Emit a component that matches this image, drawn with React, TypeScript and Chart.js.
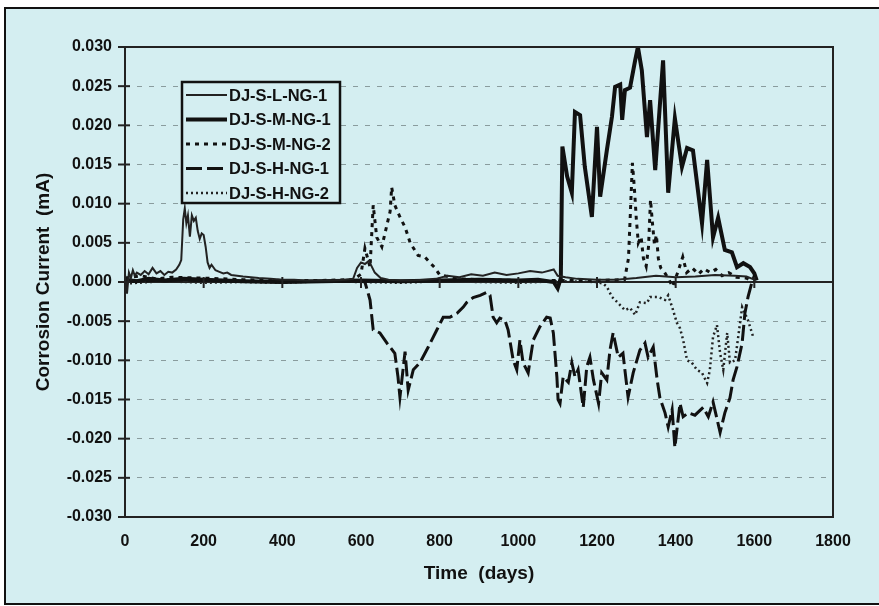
import React, { useEffect, useRef } from "react";
import { Chart, registerables } from "chart.js";

Chart.register(...registerables);

// ---------- data ----------
const seriesNames = ["DJ-S-L-NG-1", "DJ-S-M-NG-1", "DJ-S-M-NG-2", "DJ-S-H-NG-1", "DJ-S-H-NG-2"];

const xTickValues = [0, 200, 400, 600, 800, 1000, 1200, 1400, 1600, 1800];
const yTickValues = [-0.03, -0.025, -0.02, -0.015, -0.01, -0.005, 0, 0.005, 0.01, 0.015, 0.02, 0.025, 0.03];
const yTickLabels = ["-0.030", "-0.025", "-0.020", "-0.015", "-0.010", "-0.005", "0.000", "0.005", "0.010", "0.015", "0.020", "0.025", "0.030"];

const lNg1Days = [0, 5, 10, 15, 20, 25, 30, 40, 50, 60, 70, 80, 90, 100, 110, 120, 130, 138, 143, 148, 152, 156, 160, 165, 170, 175, 180, 185, 190, 195, 200, 205, 210, 215, 220, 230, 240, 250, 260, 270, 285, 300, 320, 340, 370, 400, 430, 460, 500, 530, 560, 580, 590, 600, 610, 620, 635, 650, 670, 700, 730, 760, 790, 820, 850, 880, 910, 940, 970, 1000, 1030, 1060, 1090, 1100, 1120, 1150, 1200, 1250, 1300, 1350, 1400, 1450, 1500, 1550, 1580, 1600];
const lNg1Vals = [0.001, -0.0015, 0.0012, 0.0005, 0.0015, 0.0008, 0.0012, 0.0009, 0.0014, 0.001, 0.0018, 0.0011, 0.0014, 0.0009, 0.0013, 0.0012, 0.0016, 0.0022, 0.0028, 0.008, 0.0094, 0.0075, 0.0085, 0.0058, 0.0085, 0.0078, 0.0082, 0.0065, 0.0055, 0.0062, 0.006, 0.0045, 0.0025, 0.0018, 0.0022, 0.0015, 0.0013, 0.0011, 0.0012, 0.0009, 0.0008, 0.0007, 0.0006, 0.0005, 0.0004, 0.0003, 0.0003, 0.0002, 0.0002, 0.0002, 0.0003, 0.0004, 0.0018, 0.0025, 0.0023, 0.0027, 0.0012, 0.0005, 0.0003, 0.0002, 0.0002, 0.0003, 0.0004, 0.0008, 0.0006, 0.001, 0.0008, 0.0012, 0.0009, 0.0011, 0.0014, 0.0012, 0.0016, 0.0008, 0.0006, 0.0004, 0.0003, 0.0003, 0.0005, 0.0008, 0.0006, 0.0007, 0.0009, 0.0008, 0.0007, 0.0003];

const mNg1Days = [0, 30, 60, 100, 150, 200, 250, 300, 400, 500, 600, 700, 800, 900, 1000, 1050, 1090, 1100, 1108, 1112, 1124, 1136, 1144, 1157, 1169, 1187, 1200, 1208, 1225, 1238, 1246, 1259, 1264, 1271, 1284, 1297, 1304, 1314, 1327, 1335, 1348, 1368, 1381, 1398, 1416, 1429, 1444, 1467, 1480, 1495, 1508, 1525, 1543, 1556, 1572, 1589, 1600, 1606];
const mNg1Vals = [0.0003, 0.0001, 0.0004, 0.0002, 0.0004, 0.0003, 0.0002, 0.0001, 0.0, 0.0001, 0.0002, 0.0001, 0.0002, 0.0003, 0.0002, 0.0003, 0.0, -0.0008, 0.0005, 0.0173, 0.0135, 0.0114, 0.0217, 0.0213, 0.0147, 0.0083, 0.0198, 0.0109, 0.0168, 0.0211, 0.0249, 0.0252, 0.0207, 0.0245, 0.0248, 0.0283, 0.03, 0.027, 0.0185, 0.0232, 0.0143, 0.0283, 0.0114, 0.0209, 0.0147, 0.0171, 0.0168, 0.0075, 0.0156, 0.0057, 0.0082, 0.0041, 0.0038, 0.0019, 0.0024, 0.0019, 0.0011, 0.0002];

const mNg2Days = [0, 40, 80, 120, 200, 300, 400, 500, 580, 600, 610, 623, 631, 640, 653, 666, 674, 678, 686, 699, 712, 725, 745, 762, 788, 800, 850, 900, 1000, 1100, 1200, 1270, 1280, 1285, 1290, 1295, 1300, 1305, 1312, 1318, 1325, 1331, 1336, 1341, 1346, 1351, 1356, 1362, 1372, 1382, 1392, 1405, 1418, 1428, 1442, 1458, 1472, 1488, 1502, 1518, 1535, 1555, 1580, 1600];
const mNg2Vals = [0.0005, 0.0008, 0.0004, 0.0006, 0.0005, 0.0003, 0.0002, 0.0002, 0.0003, 0.001, 0.0043, 0.0019, 0.0098, 0.0057, 0.0045, 0.0073, 0.009, 0.0121, 0.0098, 0.0083, 0.007, 0.005, 0.0034, 0.0032, 0.0018, 0.0009, 0.0004, 0.0003, 0.0002, 0.0002, 0.0002, 0.0003, 0.003, 0.009, 0.0152, 0.012, 0.008, 0.005, 0.0058, 0.003, 0.002, 0.0045, 0.0105, 0.0075, 0.0048, 0.006, 0.003, 0.0018, 0.0012, 0.0004, -0.0006, 0.0012, 0.0032, 0.0012, 0.0018, 0.001, 0.0017, 0.0012, 0.0016, 0.0008, 0.0012, 0.0006, 0.0005, 0.0];

const hNg1Days = [0, 50, 100, 200, 300, 400, 500, 600, 610, 623, 631, 648, 666, 686, 694, 699, 712, 720, 733, 750, 771, 793, 809, 826, 844, 860, 869, 885, 903, 920, 928, 936, 945, 953, 966, 974, 987, 996, 1004, 1012, 1025, 1038, 1055, 1072, 1081, 1089, 1098, 1101, 1106, 1114, 1127, 1136, 1144, 1152, 1165, 1174, 1182, 1191, 1204, 1212, 1225, 1233, 1241, 1254, 1266, 1279, 1292, 1309, 1322, 1330, 1343, 1353, 1360, 1373, 1381, 1391, 1398, 1411, 1419, 1432, 1449, 1470, 1483, 1495, 1513, 1525, 1538, 1546, 1556, 1569, 1576, 1584, 1594, 1600];
const hNg1Vals = [0.0002, 0.0001, 0.0003, 0.0002, 0.0001, 0.0, 0.0001, 0.0001, 0.0, -0.0023, -0.0061, -0.0065, -0.0078, -0.0091, -0.0121, -0.0147, -0.0089, -0.0138, -0.0112, -0.0103, -0.0083, -0.0061, -0.0045, -0.0045, -0.004, -0.0032, -0.0026, -0.002, -0.0017, -0.0013, -0.0017, -0.0045, -0.0052, -0.0046, -0.0049, -0.0061, -0.01, -0.0112, -0.0074, -0.0103, -0.0116, -0.0074, -0.0057, -0.0045, -0.0046, -0.0065, -0.0121, -0.015, -0.0155, -0.0121, -0.0128, -0.0103, -0.0121, -0.0112, -0.016, -0.0108, -0.0096, -0.0125, -0.0155, -0.0116, -0.0125, -0.0087, -0.0065, -0.0096, -0.0091, -0.0147, -0.0116, -0.0087, -0.0078, -0.0096, -0.0083, -0.0125, -0.0148, -0.0167, -0.0185, -0.0163, -0.0211, -0.0155, -0.0172, -0.0167, -0.017, -0.016, -0.0172, -0.0153, -0.0192, -0.0167, -0.0148, -0.0125, -0.0108, -0.0078, -0.004, -0.0019, 0.0, 0.0008];

const hNg2Days = [0, 100, 200, 300, 400, 500, 600, 700, 800, 900, 1000, 1100, 1200, 1215, 1225, 1238, 1254, 1271, 1284, 1297, 1309, 1327, 1335, 1356, 1373, 1381, 1391, 1403, 1411, 1419, 1429, 1441, 1454, 1467, 1480, 1487, 1495, 1505, 1513, 1521, 1531, 1538, 1551, 1559, 1569, 1576, 1584, 1597];
const hNg2Vals = [-0.0002, 0.0001, -0.0001, 0.0, -0.0001, 0.0001, 0.0, -0.0001, 0.0001, 0.0, -0.0001, 0.0001, 0.0, -0.0002, -0.0006, -0.0019, -0.0027, -0.0036, -0.0033, -0.0042, -0.0026, -0.0027, -0.0019, -0.0019, -0.0023, -0.0017, -0.0032, -0.0052, -0.0059, -0.0074, -0.01, -0.0103, -0.0112, -0.0116, -0.0129, -0.0112, -0.007, -0.0055, -0.0091, -0.0112, -0.0065, -0.0103, -0.01, -0.007, -0.0032, -0.004, -0.0049, -0.007];

// ---------- styles ----------
const BG = "#d4eef1";
const FONT = "'Liberation Sans', Arial, Helvetica, sans-serif";

const pts = (d: number[], v: number[]) => d.map((x, i) => ({ x, y: v[i] }));

const seriesStyles = [
  { color: "#222222", width: 2, dash: [] as number[] },
  { color: "#111111", width: 4, dash: [] as number[] },
  { color: "#111111", width: 3, dash: [4, 5] },
  { color: "#111111", width: 3, dash: [16, 5] },
  { color: "#222222", width: 2.5, dash: [2, 3] },
];

const decorPlugin = {
  id: "decor",
  beforeDraw(chart: any) {
    const ctx = chart.ctx;
    ctx.save();
    ctx.fillStyle = "#ffffff";
    ctx.fillRect(0, 0, chart.width, chart.height);
    ctx.fillStyle = BG;
    ctx.fillRect(5, 8, chart.width, 596);
    ctx.strokeStyle = "#111";
    ctx.lineWidth = 2;
    ctx.strokeRect(5, 8, chart.width + 10, 596);
    ctx.restore();
  },
  beforeDatasetsDraw(chart: any) {
    const { ctx, chartArea: a, scales } = chart;
    const y0 = scales.y.getPixelForValue(0);
    ctx.save();
    ctx.strokeStyle = "#222";
    ctx.lineWidth = 2;
    ctx.beginPath();
    ctx.moveTo(a.left, y0);
    ctx.lineTo(a.right, y0);
    ctx.stroke();
    ctx.restore();
  },
  afterDatasetsDraw(chart: any) {
    const { ctx, chartArea: a, scales } = chart;
    ctx.save();
    ctx.strokeStyle = "#222";
    ctx.lineWidth = 2;
    ctx.strokeRect(a.left, a.top, a.right - a.left, a.bottom - a.top);
    yTickValues.forEach((v) => {
      const y = scales.y.getPixelForValue(v);
      ctx.beginPath();
      ctx.moveTo(a.left - 7, y);
      ctx.lineTo(a.left + 5, y);
      ctx.stroke();
    });
    const y0 = scales.y.getPixelForValue(0);
    xTickValues.forEach((v) => {
      const x = scales.x.getPixelForValue(v);
      ctx.beginPath();
      ctx.moveTo(x, y0 - 5);
      ctx.lineTo(x, y0 + 6);
      ctx.stroke();
    });
    ctx.restore();
  },
  afterDraw(chart: any) {
    const ctx = chart.ctx;
    const bx = 182, by = 82, bw = 158, bh = 121;
    ctx.save();
    ctx.fillStyle = BG;
    ctx.fillRect(bx, by, bw, bh);
    ctx.strokeStyle = "#111";
    ctx.lineWidth = 2.5;
    ctx.strokeRect(bx, by, bw, bh);
    ctx.font = `bold 16.5px ${FONT}`;
    ctx.textBaseline = "middle";
    ctx.textAlign = "left";
    seriesNames.forEach((name, i) => {
      const y = 95 + i * 24.5;
      const st = seriesStyles[i];
      ctx.strokeStyle = st.color;
      ctx.lineWidth = st.width;
      ctx.setLineDash(st.dash);
      ctx.beginPath();
      ctx.moveTo(186, y);
      ctx.lineTo(227, y);
      ctx.stroke();
      ctx.setLineDash([]);
      ctx.fillStyle = "#111";
      ctx.fillText(name, 229, y + 1);
    });
    ctx.restore();
  },
};

export default function App() {
  const ref = useRef<HTMLCanvasElement | null>(null);

  useEffect(() => {
    if (!ref.current) return;
    const data = [
      pts(lNg1Days, lNg1Vals),
      pts(mNg1Days, mNg1Vals),
      pts(mNg2Days, mNg2Vals),
      pts(hNg1Days, hNg1Vals),
      pts(hNg2Days, hNg2Vals),
    ];
    const chart = new Chart(ref.current, {
      type: "line",
      data: {
        datasets: seriesNames.map((name, i) => ({
          label: name,
          data: data[i],
          borderColor: seriesStyles[i].color,
          borderWidth: seriesStyles[i].width,
          borderDash: seriesStyles[i].dash,
          pointRadius: 0,
          tension: 0,
          fill: false,
        })),
      },
      options: {
        animation: false,
        responsive: false,
        devicePixelRatio: 1,
        layout: { padding: { left: 0, top: 47, right: 46, bottom: 0 } },
        plugins: { legend: { display: false }, tooltip: { enabled: false } },
        scales: {
          x: {
            type: "linear",
            min: 0,
            max: 1800,
            afterBuildTicks: (s: any) => {
              s.ticks = xTickValues.map((value) => ({ value }));
            },
            afterFit: (s: any) => {
              s.height = 89;
            },
            grid: { display: false, drawTicks: false },
            border: { display: false },
            ticks: {
              padding: 15,
              color: "#111",
              font: { family: FONT, size: 16, weight: "bold" },
              callback: (v: any) => String(v),
            },
            title: {
              display: true,
              text: "Time  (days)",
              color: "#111",
              font: { family: FONT, size: 19, weight: "bold" },
              padding: { top: 0, bottom: 21 },
            },
          },
          y: {
            type: "linear",
            min: -0.03,
            max: 0.03,
            afterBuildTicks: (s: any) => {
              s.ticks = yTickValues.map((value) => ({ value }));
            },
            afterFit: (s: any) => {
              s.width = 125;
            },
            grid: {
              drawTicks: false,
              lineWidth: 1,
              color: (c: any) => {
                const v = c.tick ? c.tick.value : 0;
                return Math.abs(v) < 1e-9 || Math.abs(Math.abs(v) - 0.03) < 1e-9 ? "rgba(0,0,0,0)" : "#8a9c9e";
              },
            },
            border: { display: false, dash: [5, 7] },
            ticks: {
              padding: 13,
              color: "#111",
              font: { family: FONT, size: 16, weight: "bold" },
              callback: (_v: any, i: number) => yTickLabels[i],
            },
            title: {
              display: true,
              text: "Corrosion Current  (mA)",
              color: "#111",
              font: { family: FONT, size: 19, weight: "bold" },
              padding: { top: 32, bottom: 0 },
            },
          },
        },
      },
      plugins: [decorPlugin],
    } as any);
    return () => chart.destroy();
  }, []);

  return (
    <div style={{ position: "fixed", left: 0, top: 0, width: 879, height: 606, background: "#fff" }}>
      <canvas ref={ref} width={879} height={606} style={{ display: "block", width: 879, height: 606 }} />
    </div>
  );
}
